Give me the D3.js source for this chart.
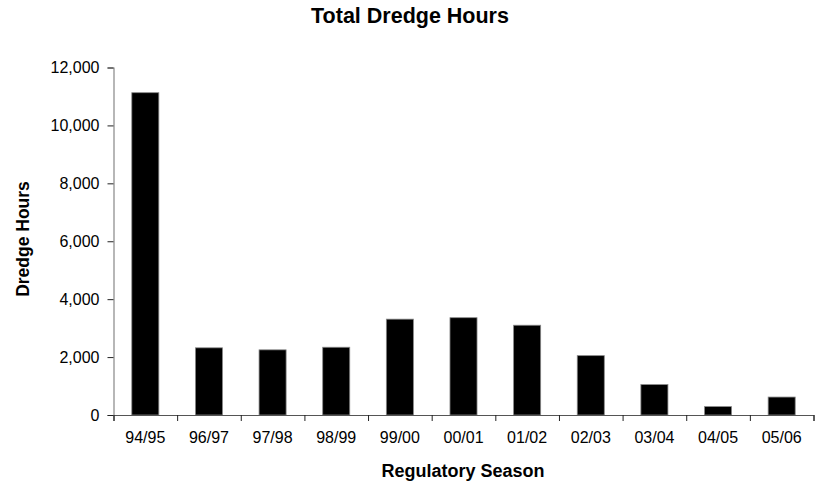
<!DOCTYPE html>
<html>
<head>
<meta charset="utf-8">
<script src="https://cdn.jsdelivr.net/npm/d3@7"></script>
<style>
  html, body { margin: 0; padding: 0; background: #fff; }
  svg { display: block; font-family: "Liberation Sans", Arial, sans-serif; }
</style>
</head>
<body>
<svg id="chart" width="816" height="486"></svg>
<script>
// Regulatory seasons and total dredge hours per season
const seasons = ["94/95", "96/97", "97/98", "98/99", "99/00", "00/01", "01/02", "02/03", "03/04", "04/05", "05/06"];
const dredgeHours = [11130, 2320, 2250, 2340, 3310, 3360, 3100, 2050, 1050, 290, 620];
const yTicks = [0, 2000, 4000, 6000, 8000, 10000, 12000];

const svg = d3.select("#chart");
const plot = { left: 113.5, right: 813.5, top: 67.5, bottom: 415 };

const x = d3.scaleBand()
  .domain(seasons)
  .range([plot.left, plot.right])
  .paddingInner(0.575)
  .paddingOuter(0.2875);

// Category boundaries for tick marks between bars
const xEdges = d3.scaleLinear()
  .domain([0, seasons.length])
  .range([plot.left, plot.right]);

const y = d3.scaleLinear()
  .domain([0, 12000])
  .range([plot.bottom, plot.top]);

// Bars
svg.append("g")
  .selectAll("rect")
  .data(seasons.map((s, i) => ({ season: s, value: dredgeHours[i] })))
  .join("rect")
  .attr("x", d => x(d.season))
  .attr("y", d => y(d.value))
  .attr("width", x.bandwidth())
  .attr("height", d => y(0) - y(d.value))
  .attr("fill", "#000")
  .attr("stroke", "#888")
  .attr("stroke-width", 0.8);

// Y axis
const yAxis = svg.append("g")
  .attr("transform", `translate(${plot.left},0)`)
  .call(d3.axisLeft(y).tickValues(yTicks).tickSize(6).tickPadding(8)
    .tickFormat(d3.format(",")));
yAxis.select(".domain").attr("stroke", "#888").attr("stroke-width", 1.2);
yAxis.selectAll(".tick line").attr("stroke", "#222");
yAxis.selectAll(".tick text")
  .attr("font-size", 16)
  .attr("font-family", "Liberation Sans, Arial, sans-serif")
  .attr("fill", "#000");

// X axis: boundary ticks
const xTickAxis = svg.append("g")
  .attr("transform", `translate(0,${plot.bottom})`)
  .call(d3.axisBottom(xEdges).ticks(seasons.length).tickSize(6).tickFormat(""));
xTickAxis.select(".domain").attr("stroke", "#555").attr("stroke-width", 1.2);
xTickAxis.selectAll(".tick line").attr("stroke", "#222");

// X axis: category labels
const xLabelAxis = svg.append("g")
  .attr("transform", `translate(0,${plot.bottom})`)
  .call(d3.axisBottom(x).tickSize(0).tickPadding(17));
xLabelAxis.select(".domain").remove();
xLabelAxis.selectAll(".tick text")
  .attr("font-size", 16)
  .attr("font-family", "Liberation Sans, Arial, sans-serif")
  .attr("fill", "#000");

// Titles
svg.append("text")
  .attr("x", 410)
  .attr("y", 23)
  .attr("text-anchor", "middle")
  .attr("font-size", 21.5)
  .attr("font-weight", "bold")
  .text("Total Dredge Hours");

svg.append("text")
  .attr("x", 463)
  .attr("y", 477)
  .attr("text-anchor", "middle")
  .attr("font-size", 18)
  .attr("font-weight", "bold")
  .text("Regulatory Season");

svg.append("text")
  .attr("transform", "translate(29,239) rotate(-90)")
  .attr("text-anchor", "middle")
  .attr("font-size", 17.5)
  .attr("font-weight", "bold")
  .text("Dredge Hours");
</script>
</body>
</html>
